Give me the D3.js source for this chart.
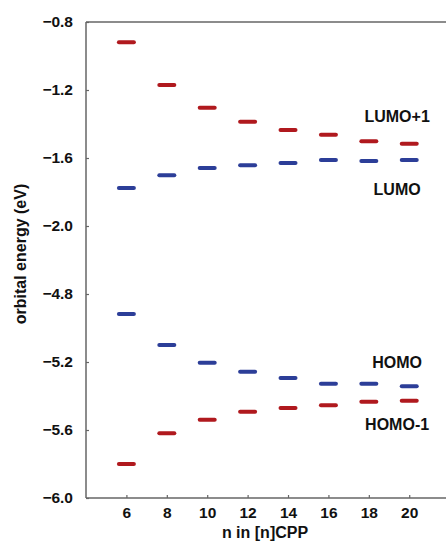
<!DOCTYPE html>
<html><head><meta charset="utf-8">
<script src="https://cdn.jsdelivr.net/npm/d3@7"></script>
<style>body{margin:0;background:#fff}svg{display:block}</style>
</head><body>
<script>
const nValues = [6, 8, 10, 12, 14, 16, 18, 20];
const lumo1 = [-0.919, -1.171, -1.305, -1.387, -1.436, -1.463, -1.501, -1.516];
const lumo  = [-1.776, -1.702, -1.659, -1.643, -1.630, -1.612, -1.618, -1.612];
const homo  = [-4.918, -5.100, -5.204, -5.257, -5.294, -5.328, -5.328, -5.343];
const homo1 = [-5.800, -5.619, -5.539, -5.492, -5.471, -5.455, -5.434, -5.428];
const topTicks = [-0.8, -1.2, -1.6, -2.0];
const botTicks = [-4.8, -5.2, -5.6, -6.0];
const seriesNames = ["LUMO+1", "LUMO", "HOMO", "HOMO-1"];
const labelY = [-1.356, -1.784, -5.200, -5.565];
const labelN = 19.4;

const W = 446, H = 548;
const red = "#b0191e", blue = "#2c3e98";
const font = "'Liberation Sans', Arial, Helvetica, sans-serif";

const svg = d3.select("body").append("svg").attr("width", W).attr("height", H)
  .style("font-family", font);

const x = d3.scaleLinear().domain([4, 21.82]).range([86, 446]);
const yTop = d3.scaleLinear().domain([-2.0, -0.8]).range([226, 22]);
const yBot = d3.scaleLinear().domain([-6.0, -4.8]).range([498, 294]);
const yAny = v => v >= -3 ? yTop(v) : yBot(v);

const axisColor = "#666";

// axes
const fmt = d3.format(".1f");
function styleAxis(g) {
  g.select(".domain").remove();
  g.selectAll(".tick line").attr("stroke", axisColor).attr("stroke-width", 1.2);
  g.selectAll(".tick text").attr("fill", "#111").style("font-size", "15.5px")
    .style("font-weight", "bold").style("font-family", font);
}
svg.append("g").attr("transform", "translate(86,0)")
  .call(d3.axisLeft(yTop).tickValues(topTicks).tickFormat(fmt).tickSize(-3).tickPadding(13))
  .call(styleAxis);
svg.append("g").attr("transform", "translate(86,0)")
  .call(d3.axisLeft(yBot).tickValues(botTicks).tickFormat(fmt).tickSize(-3).tickPadding(13))
  .call(styleAxis);
svg.append("g").attr("transform", "translate(0,498)")
  .call(d3.axisBottom(x).tickValues(nValues).tickFormat(d3.format("d")).tickSize(-3).tickPadding(9))
  .call(styleAxis);

// frame lines
svg.append("line").attr("x1", 86).attr("x2", 86).attr("y1", 22).attr("y2", 498)
  .attr("stroke", axisColor).attr("stroke-width", 1.5);
svg.append("line").attr("x1", 86).attr("x2", W).attr("y1", 22).attr("y2", 22)
  .attr("stroke", axisColor).attr("stroke-width", 1.5);
svg.append("line").attr("x1", 86).attr("x2", W).attr("y1", 498).attr("y2", 498)
  .attr("stroke", axisColor).attr("stroke-width", 1.5);

// levels
const series = [
  {vals: lumo1, color: red},
  {vals: lumo, color: blue},
  {vals: homo, color: blue},
  {vals: homo1, color: red}
];
const halfLen = 7.5;
series.forEach(s => {
  svg.append("g").selectAll("line").data(nValues.map((n, i) => ({n, v: s.vals[i]})))
    .join("line")
    .attr("x1", d => x(d.n) - halfLen).attr("x2", d => x(d.n) + halfLen)
    .attr("y1", d => yAny(d.v)).attr("y2", d => yAny(d.v))
    .attr("stroke", s.color).attr("stroke-width", 4).attr("stroke-linecap", "round");
});

// series labels
svg.append("g").selectAll("text").data(seriesNames.map((t, i) => ({t, v: labelY[i]})))
  .join("text")
  .attr("x", x(labelN)).attr("y", d => yAny(d.v)).attr("dy", "0.36em")
  .attr("text-anchor", "middle").attr("fill", "#111")
  .style("font-size", "16px").style("font-weight", "bold")
  .text(d => d.t);

// axis titles
svg.append("text").attr("x", 265).attr("y", 538).attr("text-anchor", "middle")
  .attr("fill", "#111").style("font-size", "16px").style("font-weight", "bold")
  .text("n in [n]CPP");
svg.append("text").attr("transform", "translate(26,254) rotate(-90)")
  .attr("text-anchor", "middle").attr("fill", "#111")
  .style("font-size", "16px").style("font-weight", "bold")
  .text("orbital energy (eV)");
</script>
</body></html>
